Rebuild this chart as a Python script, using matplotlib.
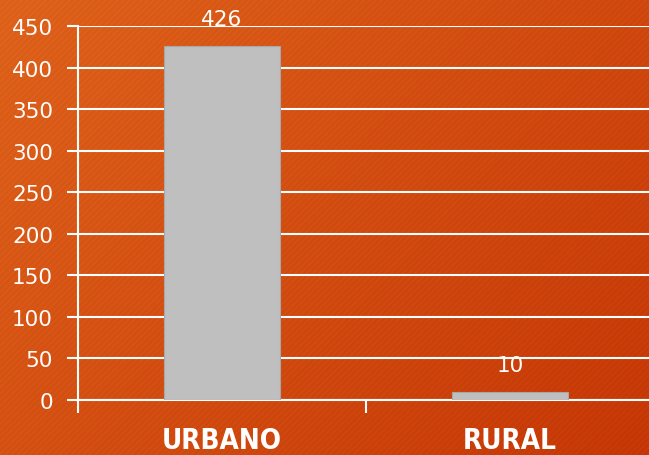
import matplotlib
matplotlib.use("Agg")
import matplotlib.pyplot as plt
import numpy as np

categories = ["URBANO", "RURAL"]
values = [426, 10]
yticks = [0, 50, 100, 150, 200, 250, 300, 350, 400, 450]

W, H = 649, 456
fig = plt.figure(figsize=(W/100, H/100), dpi=100)

# background gradient with diagonal stripes
bg = fig.add_axes([0, 0, 1, 1])
bg.set_axis_off()
yy, xx = np.mgrid[0:H, 0:W]
t = (xx / W * 0.6 + yy / H * 0.4)
c0 = np.array([0xE2, 0x64, 0x1C]) / 255
c1 = np.array([0xC9, 0x38, 0x06]) / 255
img = c0[None, None, :] * (1 - t[..., None]) + c1[None, None, :] * t[..., None]
stripe = ((xx + yy) % 6) < 3
img = img * (1 - 0.035 * stripe[..., None])
bg.imshow(img, extent=[0, W, H, 0], aspect="auto")
bg.set_xlim(0, W); bg.set_ylim(H, 0)

x0, x1 = 78, 654
y0, y1 = 401, 27
ax = fig.add_axes([x0/W, (H - y0)/H, (x1 - x0)/W, (y0 - y1)/H])
ax.patch.set_alpha(0)
xpos = np.arange(len(categories))
ax.bar(xpos, values, width=0.4, color="#BFBFBF", edgecolor="#A8A8A8", linewidth=0.8, zorder=3)
ax.set_xlim(-0.5, 1.5)
ax.set_ylim(0, 450)
ax.set_yticks(yticks)
ax.set_yticklabels([str(v) for v in yticks], color="white", fontsize=15.5)
ax.yaxis.grid(True, color="white", linewidth=1.5, zorder=1)
ax.set_axisbelow(True)
ax.tick_params(axis="y", colors="white", length=8, width=1.5, pad=10)
ax.set_xticks([-0.5, 0.5, 1.5])
ax.set_xticklabels([])
ax.tick_params(axis="x", colors="white", length=9, width=1.5, direction="out")
for s in ["top", "right"]:
    ax.spines[s].set_visible(False)
for s in ["left", "bottom"]:
    ax.spines[s].set_color("white")
    ax.spines[s].set_linewidth(1.5)
for lbl in ax.get_yticklabels():
    lbl.set_color("white")

for i, (c, v) in enumerate(zip(categories, values)):
    ax.annotate(str(v), (i, v), xytext=(0, 12), textcoords="offset points",
                ha="center", va="bottom", color="white", fontsize=15.5)
    ax.annotate(c, (i, 0), xytext=(0, -28.5), textcoords="offset points",
                ha="center", va="center", color="white", fontsize=20,
                fontweight="bold", fontstretch="condensed")

fig.savefig("out.png", dpi=100)
